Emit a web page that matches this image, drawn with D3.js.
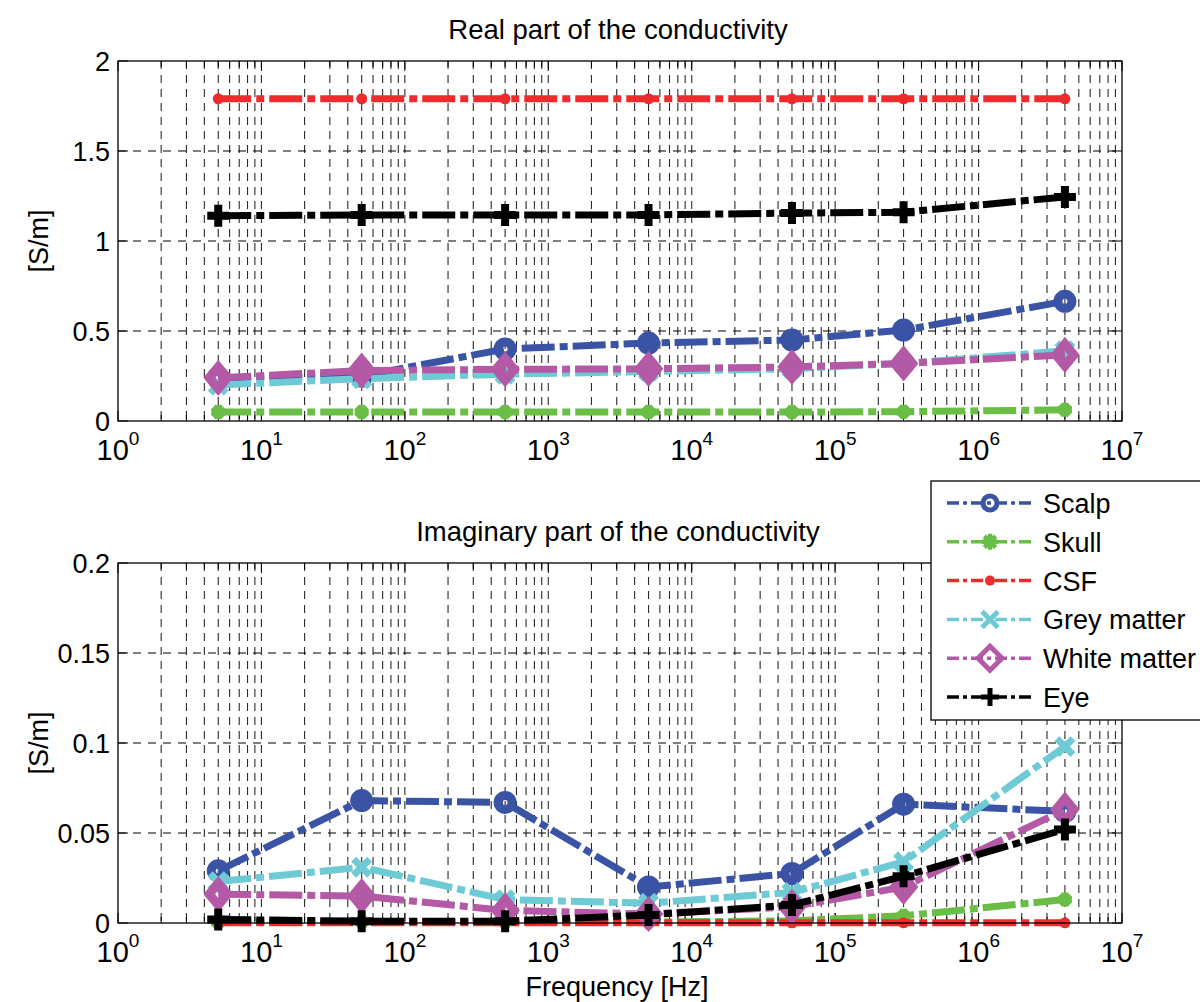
<!DOCTYPE html>
<html>
<head>
<meta charset="utf-8">
<script src="https://cdn.jsdelivr.net/npm/d3@7"></script>
<style>
    body { margin: 0; background: #fff; }
    svg { display: block; font-family: Arial, "Liberation Sans", Helvetica, sans-serif; }
</style>
</head>
<body>
<svg id="chart" width="1200" height="1002"></svg>
<script>
// ---- data ----
const freqs = [5, 50, 500, 5000, 50000, 300000, 4000000];
const tissueNames = ["Scalp", "Skull", "CSF", "Grey matter", "White matter", "Eye"];
const tissueColors = ["#3a53a4", "#6abd45", "#ee2b2c", "#6ecbd6", "#b359a5", "#000000"];
const tissueMarkers = ["circle", "asterisk", "dot", "cross", "diamond", "plus"];

const realScalp = [0.24, 0.25, 0.40, 0.433, 0.45, 0.505, 0.665];
const realSkull = [0.05, 0.05, 0.05, 0.05, 0.05, 0.052, 0.062];
const realCSF = [1.79, 1.79, 1.79, 1.79, 1.79, 1.79, 1.79];
const realGrey = [0.20, 0.235, 0.26, 0.275, 0.29, 0.32, 0.39];
const realWhite = [0.24, 0.28, 0.287, 0.29, 0.30, 0.32, 0.367];
const realEye = [1.14, 1.145, 1.145, 1.145, 1.155, 1.16, 1.245];

const imagScalp = [0.029, 0.068, 0.067, 0.020, 0.0275, 0.066, 0.062];
const imagSkull = [0.0003, 0.0005, 0.0005, 0.0005, 0.0012, 0.004, 0.013];
const imagCSF = [0.0001, 0.0001, 0.0001, 0.0001, 0.0001, 0.0001, 0.0001];
const imagGrey = [0.023, 0.031, 0.013, 0.011, 0.017, 0.034, 0.098];
const imagWhite = [0.016, 0.015, 0.007, 0.005, 0.009, 0.02, 0.063];
const imagEye = [0.002, 0.001, 0.001, 0.0045, 0.010, 0.026, 0.052];

const xTickExps = [0, 1, 2, 3, 4, 5, 6, 7];
const realTicks = [0, 0.5, 1, 1.5, 2];
const imagTicks = [0, 0.05, 0.1, 0.15, 0.2];

const svg = d3.select('#chart');

// shared log x scale
const x = d3.scaleLog().domain([1, 1e7]).range([118, 1122]);

// minor positions 2..9 per decade
const minorX = [];
xTickExps.slice(0, -1).forEach(e => {
    for (let k = 2; k <= 9; k++) minorX.push(k * Math.pow(10, e));
});

// marker drawing, sizes differ between plot and legend
function drawMarker(g, type, cx, cy, color, s) {
    if (type === 'circle' || type === 'dot') {
        g.append('circle')
            .attr('cx', cx).attr('cy', cy).attr('r', s.r)
            .attr('fill', type === 'dot' ? color : 'none')
            .attr('stroke', type === 'dot' ? 'none' : color)
            .attr('stroke-width', s.w);
        return;
    }
    let d;
    const h = s.h;
    if (type === 'asterisk') {
        const q = h * 0.707;
        d = `M${-h},0H${h}M0,${-h}V${h}M${-q},${-q}L${q},${q}M${-q},${q}L${q},${-q}`;
    } else if (type === 'cross') {
        d = `M${-h},${-h}L${h},${h}M${-h},${h}L${h},${-h}`;
    } else if (type === 'plus') {
        d = `M${-h},0H${h}M0,${-h}V${h}`;
    } else {
        d = `M0,${-s.hh}L${h},0L0,${s.hh}L${-h},0Z`;
    }
    g.append('path')
        .attr('transform', `translate(${cx},${cy})`)
        .attr('d', d)
        .attr('fill', 'none')
        .attr('stroke', color)
        .attr('stroke-width', s.w)
        .attr('stroke-linejoin', 'miter');
}

const plotMarkerSize = {
    circle: { r: 7, w: 9 },
    asterisk: { h: 7, w: 7 },
    dot: { r: 5.5, w: 0 },
    cross: { h: 8, w: 7 },
    diamond: { h: 9, hh: 11, w: 9 },
    plus: { h: 11, w: 8 }
};
const legendMarkerSize = {
    circle: { r: 7, w: 5 },
    asterisk: { h: 8, w: 4.5 },
    dot: { r: 5, w: 0 },
    cross: { h: 8, w: 5 },
    diamond: { h: 12, hh: 12, w: 5 },
    plus: { h: 9, w: 5 }
};

function drawPanel(top, bottom, yMax, yTicks, title, seriesValues) {
    const y = d3.scaleLinear().domain([0, yMax]).range([bottom, top]);
    const g = svg.append('g');
    const [x0, x1] = x.range();

    // vertical grid (major + minor), dashed
    const gridX = minorX.concat(xTickExps.slice(1, -1).map(e => Math.pow(10, e)));
    g.selectAll('.vgrid').data(gridX).join('line')
        .attr('x1', d => x(d)).attr('x2', d => x(d))
        .attr('y1', top).attr('y2', bottom)
        .attr('stroke', '#2a2a2a').attr('stroke-width', 1.1)
        .attr('stroke-dasharray', '8,6');

    // horizontal grid
    g.selectAll('.hgrid').data(yTicks.slice(1, -1)).join('line')
        .attr('x1', x0).attr('x2', x1)
        .attr('y1', d => y(d)).attr('y2', d => y(d))
        .attr('stroke', '#000').attr('stroke-width', 1.1)
        .attr('stroke-dasharray', '8,7');

    // tick marks, inside, on all four sides
    const ticks = g.append('g').attr('stroke', '#000').attr('stroke-width', 1);
    xTickExps.forEach(e => {
        const px = x(Math.pow(10, e));
        ticks.append('line').attr('x1', px).attr('x2', px).attr('y1', bottom).attr('y2', bottom - 10);
        ticks.append('line').attr('x1', px).attr('x2', px).attr('y1', top).attr('y2', top + 10);
    });
    minorX.forEach(v => {
        const px = x(v);
        ticks.append('line').attr('x1', px).attr('x2', px).attr('y1', bottom).attr('y2', bottom - 6);
        ticks.append('line').attr('x1', px).attr('x2', px).attr('y1', top).attr('y2', top + 6);
    });
    yTicks.forEach(v => {
        ticks.append('line').attr('x1', x0).attr('x2', x0 + 10).attr('y1', y(v)).attr('y2', y(v));
        ticks.append('line').attr('x1', x1).attr('x2', x1 - 10).attr('y1', y(v)).attr('y2', y(v));
    });

    // series lines then markers
    const line = d3.line().x((d, i) => x(freqs[i])).y(d => y(d));
    seriesValues.forEach((vals, s) => {
        const color = tissueColors[s];
        g.append('path')
            .attr('d', line(vals))
            .attr('fill', 'none')
            .attr('stroke', color)
            .attr('stroke-width', 7)
            .attr('stroke-dasharray', '33,5,8,5');
        const mg = g.append('g');
        vals.forEach((v, i) => drawMarker(mg, tissueMarkers[s], x(freqs[i]), y(v), color, plotMarkerSize[tissueMarkers[s]]));
    });

    // axes box
    g.append('rect')
        .attr('x', x0).attr('y', top)
        .attr('width', x1 - x0).attr('height', bottom - top)
        .attr('fill', 'none').attr('stroke', '#000').attr('stroke-width', 1.3);

    // y tick labels
    g.selectAll('.ylab').data(yTicks).join('text')
        .attr('x', 110).attr('y', d => y(d) + 9.5)
        .attr('text-anchor', 'end')
        .attr('font-size', 27)
        .text(d => String(d));

    // x tick labels 10^n
    xTickExps.forEach(e => {
        const t = g.append('text')
            .attr('x', x(Math.pow(10, e)))
            .attr('y', bottom + 39)
            .attr('text-anchor', 'middle')
            .attr('font-size', 29);
        t.append('tspan').text('10');
        t.append('tspan').attr('dy', -15).attr('font-size', 19).text(e);
    });

    // title and y label
    g.append('text')
        .attr('x', (x0 + x1) / 2 - 2).attr('y', top - 22)
        .attr('text-anchor', 'middle')
        .attr('font-size', 27.5)
        .text(title);

    g.append('text')
        .attr('transform', `translate(48,${(top + bottom) / 2}) rotate(-90)`)
        .attr('text-anchor', 'middle')
        .attr('font-size', 27)
        .text('[S/m]');
}

drawPanel(61, 421, 2, realTicks, 'Real part of the conductivity',
    [realScalp, realSkull, realCSF, realGrey, realWhite, realEye]);
drawPanel(563, 923, 0.2, imagTicks, 'Imaginary part of the conductivity',
    [imagScalp, imagSkull, imagCSF, imagGrey, imagWhite, imagEye]);

// x axis label
svg.append('text')
    .attr('x', 617).attr('y', 996)
    .attr('text-anchor', 'middle')
    .attr('font-size', 27)
    .text('Frequency [Hz]');

// legend box, extends past the right edge like the reference
const legend = svg.append('g').attr('transform', 'translate(931,481)');
legend.append('rect')
    .attr('width', 300).attr('height', 239)
    .attr('fill', '#fff').attr('stroke', '#000').attr('stroke-width', 1.3);

tissueNames.forEach((name, i) => {
    const ly = 22 + i * 38.8;
    legend.append('line')
        .attr('x1', 16).attr('x2', 102)
        .attr('y1', ly).attr('y2', ly)
        .attr('stroke', tissueColors[i])
        .attr('stroke-width', 3.5)
        .attr('stroke-dasharray', '12,4,4,4');
    drawMarker(legend, tissueMarkers[i], 59, ly, tissueColors[i], legendMarkerSize[tissueMarkers[i]]);
    legend.append('text')
        .attr('x', 112).attr('y', ly + 10)
        .attr('font-size', 27)
        .text(name);
});
</script>
</body>
</html>
